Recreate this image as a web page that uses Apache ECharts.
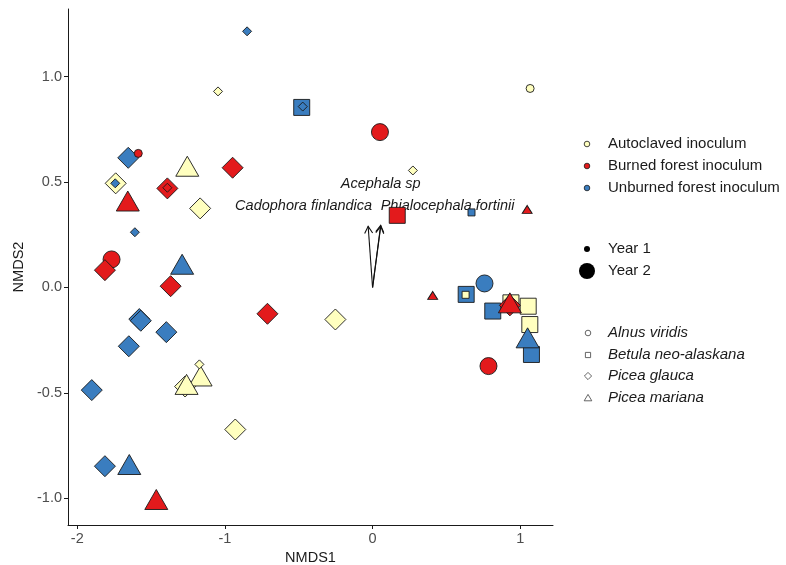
<!DOCTYPE html>
<html><head><meta charset="utf-8">
<script src="https://cdn.jsdelivr.net/npm/echarts@6/dist/echarts.min.js"></script>
<style>html,body{margin:0;padding:0;background:#fff}#c{width:786px;height:565px}</style>
</head><body><div id="c"></div>
<script>
// ---- data ----
const inoculumCodes = ['A', 'B', 'U'];
const inoculumNames = ['Autoclaved inoculum', 'Burned forest inoculum', 'Unburned forest inoculum'];
const yearNames = ['Year 1', 'Year 2'];
const speciesCodes = ['Av', 'Bn', 'Pg', 'Pm'];
const speciesNames = ['Alnus viridis', 'Betula neo-alaskana', 'Picea glauca', 'Picea mariana'];

const xTicks = [-2, -1, 0, 1];
const yTicks = [-1, -0.5, 0, 0.5, 1];

// Year 2 samples
const y2NMDS1 = [-1.655, -1.255, -1.740, -1.390, -0.948, -1.658, -1.168, -1.768, -1.813, -1.290,
  -1.368, -1.580, -1.570, -1.397, -1.651, -0.712, -1.902, -1.270, -1.165, -1.260,
  -0.930, -1.813, -1.648, -1.465, -0.252, -0.480, 0.050, 0.167, 0.758, 0.634,
  0.814, 1.054, 0.937, 0.930, 0.930, 1.065, 1.076, 1.050, 0.785];
const y2NMDS2 = [0.615, 0.575, 0.494, 0.470, 0.568, 0.410, 0.375, 0.133, 0.082, 0.110,
  0.006, -0.150, -0.158, -0.212, -0.279, -0.125, -0.487, -0.470, -0.420, -0.460,
  -0.674, -0.848, -0.840, -1.006, -0.152, 0.854, 0.737, 0.342, 0.019, -0.033,
  -0.112, -0.089, -0.073, -0.085, -0.073, -0.176, -0.318, -0.239, -0.373];
const y2Inoc = ['U', 'A', 'A', 'B', 'B', 'B', 'A', 'B', 'B', 'U',
  'B', 'U', 'U', 'U', 'U', 'B', 'U', 'A', 'A', 'A',
  'A', 'U', 'U', 'B', 'A', 'U', 'B', 'B', 'U', 'U',
  'U', 'A', 'A', 'B', 'B', 'A', 'U', 'U', 'B'];
const y2Species = ['Pg', 'Pm', 'Pg', 'Pg', 'Pg', 'Pm', 'Pg', 'Av', 'Pg', 'Pm',
  'Pg', 'Pg', 'Pg', 'Pg', 'Pg', 'Pg', 'Pg', 'Pg', 'Pm', 'Pm',
  'Pg', 'Pg', 'Pm', 'Pm', 'Pg', 'Bn', 'Av', 'Bn', 'Av', 'Bn',
  'Bn', 'Bn', 'Bn', 'Pg', 'Pm', 'Bn', 'Bn', 'Pm', 'Av'];

// Year 1 samples
const y1NMDS1 = [-0.850, -1.047, 1.067, 0.273, 0.670, 1.047, -1.587, -1.610, 0.407, -1.743, -1.390, -0.473, 0.630, -1.173];
const y1NMDS2 = [1.215, 0.930, 0.944, 0.555, 0.356, 0.370, 0.636, 0.262, -0.038, 0.494, 0.473, 0.858, -0.035, -0.365];
const y1Inoc = ['U', 'A', 'A', 'A', 'U', 'B', 'B', 'U', 'B', 'U', 'B', 'U', 'A', 'A'];
const y1Species = ['Pg', 'Pg', 'Av', 'Pg', 'Bn', 'Pm', 'Av', 'Pg', 'Pm', 'Pg', 'Pg', 'Pg', 'Bn', 'Pg'];

// fungal vectors
const vecNames = ['Cadophora finlandica', 'Acephala sp', 'Phialocephala fortinii'];
const vecNMDS1 = [-0.030, 0.055, 0.055];
const vecNMDS2 = [0.290, 0.295, 0.290];

// ---- styles ----
const inocColor = { A: '#FFFFBF', B: '#E31A1C', U: '#3A7DBF' };
const speciesSymbol = { Av: 'circle', Bn: 'rect', Pg: 'diamond', Pm: 'triangle' };
const sizeY2 = { Av: 17, Bn: 16, Pg: 21, Pm: [23, 20] };
const sizeY1 = { Av: 8, Bn: 7, Pg: 9, Pm: [10, 8] };
const FONT = '"Liberation Sans", Arial, sans-serif';
const AXFS = 14.5, LGFS = 15;

function buildPoints(xs, ys, inoc, sp, sizes) {
  return xs.map((x, i) => ({
    value: [x, ys[i]],
    symbol: speciesSymbol[sp[i]],
    symbolSize: sizes[sp[i]],
    itemStyle: { color: inocColor[inoc[i]], borderColor: '#1a1a1a', borderWidth: 0.9, opacity: 1 }
  }));
}
const points = buildPoints(y2NMDS1, y2NMDS2, y2Inoc, y2Species, sizeY2)
  .concat(buildPoints(y1NMDS1, y1NMDS2, y1Inoc, y1Species, sizeY1));

const labelStyle = [
  { align: 'right', dx: 4, dy: -20 },
  { align: 'center', dx: 0, dy: -41 },
  { align: 'left', dx: 0, dy: -20 }
];

// legend graphics
const LX = 587, TX = 608;
const legendEls = [];
const inocRows = [144, 166, 188];
inoculumNames.forEach((n, i) => {
  legendEls.push({ type: 'circle', shape: { cx: LX, cy: inocRows[i], r: 2.8 },
    style: { fill: inocColor[inoculumCodes[i]], stroke: '#1a1a1a', lineWidth: 0.8 } });
  legendEls.push({ type: 'text', x: TX, y: inocRows[i],
    style: { text: n, font: LGFS + 'px ' + FONT, fill: '#1a1a1a', verticalAlign: 'middle' } });
});
const yearRows = [249, 271];
const yearR = [3, 8];
yearNames.forEach((n, i) => {
  legendEls.push({ type: 'circle', shape: { cx: LX, cy: yearRows[i], r: yearR[i] }, style: { fill: '#000' } });
  legendEls.push({ type: 'text', x: TX, y: yearRows[i],
    style: { text: n, font: LGFS + 'px ' + FONT, fill: '#1a1a1a', verticalAlign: 'middle' } });
});
const spRows = [333, 355, 376, 398];
const spStroke = { fill: 'none', stroke: '#555', lineWidth: 0.9 };
legendEls.push({ type: 'circle', shape: { cx: LX + 1, cy: spRows[0], r: 2.8 }, style: spStroke });
legendEls.push({ type: 'rect', shape: { x: LX - 1.6, y: spRows[1] - 2.6, width: 5.2, height: 5.2 }, style: spStroke });
legendEls.push({ type: 'polygon', shape: { points: [[LX + 1, spRows[2] - 3.6], [LX + 4.6, spRows[2]], [LX + 1, spRows[2] + 3.6], [LX - 2.6, spRows[2]]] }, style: spStroke });
legendEls.push({ type: 'polygon', shape: { points: [[LX + 1, spRows[3] - 3.6], [LX + 4.8, spRows[3] + 2.8], [LX - 2.8, spRows[3] + 2.8]] }, style: spStroke });
speciesNames.forEach((n, i) => {
  legendEls.push({ type: 'text', x: TX, y: spRows[i],
    style: { text: n, font: 'italic ' + LGFS + 'px ' + FONT, fill: '#1a1a1a', verticalAlign: 'middle' } });
});

const chart = echarts.init(document.getElementById('c'), null, { renderer: 'canvas' });
chart.setOption({
  animation: false,
  backgroundColor: '#fff',
  grid: { left: 68, top: 9, right: 233, bottom: 40, containLabel: false, outerBoundsMode: 'none' },
  xAxis: {
    type: 'value', min: -2.063, max: 1.222,
    name: 'NMDS1', nameLocation: 'middle', nameGap: 23,
    nameTextStyle: { color: '#1a1a1a', fontSize: AXFS, fontFamily: FONT },
    axisLine: { show: true, onZero: false, lineStyle: { color: '#1a1a1a', width: 1 } },
    axisTick: { show: true, length: 4, customValues: xTicks, lineStyle: { color: '#1a1a1a' } },
    axisLabel: { customValues: xTicks, color: '#4d4d4d', fontSize: AXFS, fontFamily: FONT, margin: 6,
      formatter: v => String(v) },
    splitLine: { show: false }
  },
  yAxis: {
    type: 'value', min: -1.127, max: 1.321,
    name: 'NMDS2', nameLocation: 'middle', nameGap: 38, nameRotate: 90,
    nameTextStyle: { color: '#1a1a1a', fontSize: AXFS, fontFamily: FONT },
    axisLine: { show: true, onZero: false, lineStyle: { color: '#1a1a1a', width: 1 } },
    axisTick: { show: true, length: 4, customValues: yTicks, lineStyle: { color: '#1a1a1a' } },
    axisLabel: { customValues: yTicks, color: '#4d4d4d', fontSize: AXFS, fontFamily: FONT, margin: 6,
      formatter: v => v.toFixed(1) },
    splitLine: { show: false }
  },
  series: [
    {
      type: 'custom',
      z: 1,
      data: vecNames.map((n, i) => [vecNMDS1[i], vecNMDS2[i], i]),
      renderItem: function (params, api) {
        const o = api.coord([0, 0]);
        const t = api.coord([api.value(0), api.value(1)]);
        const idx = api.value(2);
        const ang = Math.atan2(t[1] - o[1], t[0] - o[0]);
        const L = 8, a = Math.PI / 6;
        const h1 = [t[0] - L * Math.cos(ang - a), t[1] - L * Math.sin(ang - a)];
        const h2 = [t[0] - L * Math.cos(ang + a), t[1] - L * Math.sin(ang + a)];
        const ls = { stroke: '#111', lineWidth: 1.1, fill: null };
        const st = labelStyle[idx];
        return {
          type: 'group',
          children: [
            { type: 'line', shape: { x1: o[0], y1: o[1], x2: t[0], y2: t[1] }, style: ls },
            { type: 'polyline', shape: { points: [h1, t, h2] }, style: ls },
            { type: 'text', x: t[0] + st.dx, y: t[1] + st.dy,
              style: { text: vecNames[idx], font: 'italic ' + AXFS + 'px ' + FONT, fill: '#1a1a1a',
                align: st.align, verticalAlign: 'middle' } }
          ]
        };
      }
    },
    {
      type: 'scatter',
      z: 2,
      itemStyle: { opacity: 1 },
      emphasis: { disabled: true },
      data: points
    }
  ],
  graphic: legendEls
});
</script></body></html>
